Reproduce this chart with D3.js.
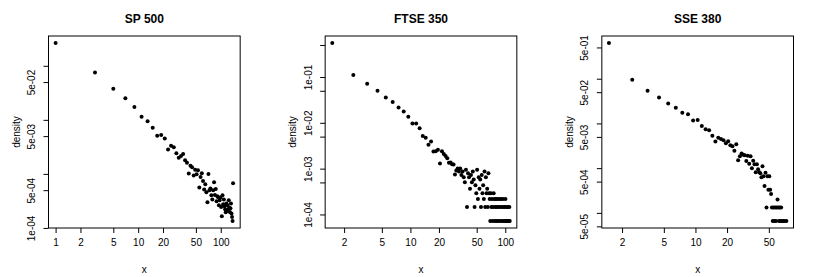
<!DOCTYPE html>
<meta charset="utf-8">
<head>
	<title>Degree densities</title>
	<script type="text/javascript" src="https://d3js.org/d3.v7.min.js"></script>
	<style>
		body { margin: 0; background: #fff; }
		svg text { font-family: "Liberation Sans", Arial, Helvetica, sans-serif; fill: #000; }
		.title { font-size: 12px; font-weight: bold; }
		.tick text { font-size: 10px; }
		.axis-title { font-size: 10px; }
		.box { fill: none; stroke: #000; stroke-width: 1; }
		.dot { fill: #000; }
	</style>
</head>
<body>
	<div id="chart"></div>
	<script>
		// values
		var spX = [1, 3, 5, 7, 9, 11, 13, 15, 17, 19, 21, 23, 25, 27, 29, 31, 33, 35, 37, 39,
			41, 43, 45, 47, 49, 51, 53, 55, 57, 59, 61, 63, 65, 67, 69, 71, 73, 75, 77, 79,
			81, 83, 85, 87, 89, 91, 93, 95, 97, 99, 101, 103, 105, 107, 109, 111, 113, 115, 117, 119,
			121, 123, 125, 127, 129, 131, 133, 135, 137, 139, 141];
		var spDensity = [0.263, 0.0755, 0.0375, 0.0252, 0.0172, 0.0114, 0.00946, 0.00711, 0.00506, 0.00527,
			0.00453, 0.00283, 0.00330, 0.00312, 0.00241, 0.00198, 0.00215, 0.00234, 0.00179, 0.00160,
			0.00102, 0.00141, 0.00132, 0.000933, 0.00119, 0.000986, 0.00117, 0.000560, 0.000879, 0.00103,
			0.000741, 0.000514, 0.000644, 0.000458, 0.000299, 0.00100, 0.000499, 0.000537, 0.000404, 0.000336,
			0.000499, 0.000702, 0.000408, 0.000527, 0.000312, 0.000386, 0.000371, 0.000263, 0.000326, 0.000366,
			0.000245, 0.000165, 0.000404, 0.000275, 0.000336, 0.000252, 0.000222, 0.000195, 0.000283, 0.000207,
			0.000263, 0.000222, 0.000326, 0.000234, 0.000198, 0.000232, 0.000283, 0.000185, 0.000160, 0.000135,
			0.000673];

		var ftseX = [1.5, 2.5, 3.5, 4.5, 5.5, 6.5, 7.5, 8.5, 9.5, 10.5, 11.5, 12.5, 13.5, 14.5, 15.5, 16.5, 17.5, 18.5, 19.5, 20.5,
			21.5, 22.5, 23.5, 24.5, 25.5, 26.5, 27.5, 28.5, 29.5, 30.5, 31.5, 32.5, 33.5, 34.5, 35.5, 36.5, 37.5, 38.5, 39.5, 40.5,
			41.5, 42.5, 43.5, 44.5, 45.5, 46.5, 47.5, 48.5, 49.5, 50.5, 51.5, 52.5, 53.5, 54.5, 55.5, 56.5, 57.5, 58.5, 59.5, 60.5,
			61.5, 62.5, 63.5, 64.5, 65.5, 66.5, 67.5, 68.5, 69.5, 70.5, 71.5, 72.5, 73.5, 74.5, 75.5, 76.5, 77.5, 78.5, 79.5, 80.5,
			81.5, 82.5, 83.5, 84.5, 86.5, 87.5, 88.5, 90.5, 91.5, 92.5, 94.5, 95.5, 96.5, 98.5, 99.5, 100.5, 101.5, 103.5, 104.5, 106.5,
			107.5, 109.5, 110.5, 111.5];
		var ftseDensity = [0.549, 0.110, 0.0712, 0.0500, 0.0359, 0.0283, 0.0217, 0.0177, 0.0135, 0.00971,
			0.00971, 0.00765, 0.00513, 0.00470, 0.00334, 0.00389, 0.00238, 0.00240, 0.00257, 0.00130,
			0.00240, 0.00210, 0.00188, 0.00169, 0.00134, 0.00137, 0.00125, 0.00123, 0.000746, 0.000914,
			0.00101, 0.000869, 0.00101, 0.000724, 0.000869, 0.000652, 0.000507, 0.000941, 0.000145, 0.000796,
			0.000652, 0.000362, 0.000724, 0.000507, 0.000869, 0.000579, 0.000145, 0.000434, 0.000290, 0.000941,
			0.000217, 0.000652, 0.000362, 0.000579, 0.000145, 0.000724, 0.000290, 0.000434, 0.000217, 0.000869,
			0.000145, 0.000652, 0.000290, 0.000362, 0.000145, 0.000796, 0.000290, 0.000217, 0.0000724, 0.000290,
			0.000145, 0.000217, 0.0000724, 0.000145, 0.000290, 0.000217, 0.0000724, 0.000145, 0.000217, 0.0000724,
			0.000145, 0.000217, 0.0000724, 0.000145, 0.000217, 0.0000724, 0.000145, 0.000217, 0.0000724, 0.000145,
			0.000217, 0.0000724, 0.000145, 0.0000724, 0.000145, 0.000217, 0.0000724, 0.000145, 0.0000724, 0.000145,
			0.0000724, 0.0000724, 0.000145, 0.0000724];

		var sseX = [1.5, 2.5, 3.5, 4.5, 5.5, 6.5, 7.5, 8.5, 9.5, 10.5, 11.5, 12.5, 13.5, 14.5, 15.5, 16.5, 17.5, 18.5, 19.5, 20.5,
			21.5, 22.5, 23.5, 24.5, 25.5, 26.5, 27.5, 28.5, 29.5, 30.5, 31.5, 32.5, 33.5, 34.5, 35.5, 36.5, 37.5, 38.5, 39.5, 40.5,
			41.5, 42.5, 43.5, 44.5, 45.5, 46.5, 47.5, 48.5, 49.5, 50.5, 51.5, 52.5, 53.5, 54.5, 55.5, 56.5, 57.5, 58.5, 59.5, 60.5,
			61.5, 62.5, 63.5, 64.5, 65.5, 66.5, 68.5, 70.5, 73.5];
		var sseDensity = [0.625, 0.0944, 0.0536, 0.0382, 0.0280, 0.0223, 0.0173, 0.0161, 0.0117, 0.0120,
			0.00871, 0.00745, 0.00708, 0.00533, 0.00392, 0.00476, 0.00446, 0.00423, 0.00362, 0.00402,
			0.00327, 0.00310, 0.00246, 0.00344, 0.00151, 0.00185, 0.00213, 0.00200, 0.00195, 0.00144,
			0.00190, 0.00126, 0.00185, 0.00100, 0.00147, 0.00123, 0.000815, 0.00123, 0.000950, 0.000815,
			0.000773, 0.000630, 0.00111, 0.000662, 0.000397, 0.000794, 0.000132, 0.000662, 0.000331, 0.000662,
			0.000331, 0.000265, 0.000132, 0.0000662, 0.000132, 0.0000662, 0.000132, 0.0000662, 0.000132, 0.000199,
			0.000132, 0.0000662, 0.000132, 0.0000662, 0.000132, 0.0000662, 0.0000662, 0.0000662, 0.0000662];

		// axis ticks and the labels R kept (blank = label dropped for overlap)
		var spXTicks = [1, 2, 5, 10, 20, 50, 100];
		var ftseXTicks = [2, 5, 10, 20, 50, 100];
		var sseXTicks = [2, 5, 10, 20, 50];
		var spYTicks = [1e-4, 5e-4, 1e-3, 5e-3, 1e-2, 5e-2, 1e-1];
		var spYLabels = ["1e-04", "5e-04", "", "5e-03", "", "5e-02", ""];
		var ftseYTicks = [1e-4, 5e-4, 1e-3, 5e-3, 1e-2, 5e-2, 1e-1, 5e-1];
		var ftseYLabels = ["1e-04", "", "1e-03", "", "1e-02", "", "1e-01", ""];
		var sseYTicks = [5e-5, 1e-4, 5e-4, 1e-3, 5e-3, 1e-2, 5e-2, 1e-1, 5e-1];
		var sseYLabels = ["5e-05", "", "5e-04", "", "5e-03", "", "5e-02", "", "5e-01"];

		var titles = ["SP 500", "FTSE 350", "SSE 380"];

		var panels = [
			{ title: titles[0], x: spX, y: spDensity, xTicks: spXTicks, yTicks: spYTicks, yLabels: spYLabels },
			{ title: titles[1], x: ftseX, y: ftseDensity, xTicks: ftseXTicks, yTicks: ftseYTicks, yLabels: ftseYLabels },
			{ title: titles[2], x: sseX, y: sseDensity, xTicks: sseXTicks, yTicks: sseYTicks, yLabels: sseYLabels }
		];

		var width = 830;
		var height = 277;
		var panelWidth = width / 3;
		var margin = { top: 36, right: 36.5, bottom: 49, left: 48.5 };
		var w = panelWidth - margin.left - margin.right;
		var h = height - margin.top - margin.bottom;

		var svg = d3.select("#chart").append("svg")
			.attr("width", width)
			.attr("height", height);

		// R style: log range padded by 4% on each side
		function logExtent(vals) {
			var e = d3.extent(vals).map(Math.log10);
			var pad = (e[1] - e[0]) * 0.04;
			return [Math.pow(10, e[0] - pad), Math.pow(10, e[1] + pad)];
		}

		panels.forEach(function (p, i) {
			var g = svg.append("g")
				.attr("transform", "translate(" + (i * panelWidth + margin.left) + "," + margin.top + ")");

			var x = d3.scaleLog().domain(logExtent(p.x)).range([0, w]);
			var y = d3.scaleLog().domain(logExtent(p.y)).range([h, 0]);

			var pts = p.x.map(function (d, j) { return [d, p.y[j]]; });

			g.selectAll(".dot")
				.data(pts)
				.enter()
				.append("circle")
				.attr("class", "dot")
				.attr("cx", function (d) { return x(d[0]); })
				.attr("cy", function (d) { return y(d[1]); })
				.attr("r", 2);

			var xAxis = g.append("g")
				.attr("transform", "translate(0," + h + ")")
				.call(d3.axisBottom(x).tickValues(p.xTicks).tickFormat(d3.format("d")).tickSize(5).tickPadding(6));
			xAxis.select(".domain").remove();

			var yAxis = g.append("g")
				.call(d3.axisLeft(y).tickValues(p.yTicks)
					.tickFormat(function (d, k) { return p.yLabels[k]; })
					.tickSize(5));
			yAxis.select(".domain").remove();
			yAxis.selectAll(".tick text")
				.attr("transform", "rotate(-90)")
				.attr("text-anchor", "middle")
				.attr("x", 0)
				.attr("y", -13.5)
				.attr("dy", null);

			g.selectAll(".tick line").attr("stroke", "#000");

			g.append("rect")
				.attr("class", "box")
				.attr("x", 0)
				.attr("y", 0)
				.attr("width", w)
				.attr("height", h);

			g.append("text")
				.attr("class", "title")
				.attr("x", w / 2)
				.attr("y", -13)
				.attr("text-anchor", "middle")
				.text(p.title);

			g.append("text")
				.attr("class", "axis-title")
				.attr("x", w / 2)
				.attr("y", h + 45)
				.attr("text-anchor", "middle")
				.text("x");

			g.append("text")
				.attr("class", "axis-title")
				.attr("transform", "translate(-29," + (h / 2) + ") rotate(-90)")
				.attr("text-anchor", "middle")
				.text("density");
		});
	</script>
</body>
</html>
